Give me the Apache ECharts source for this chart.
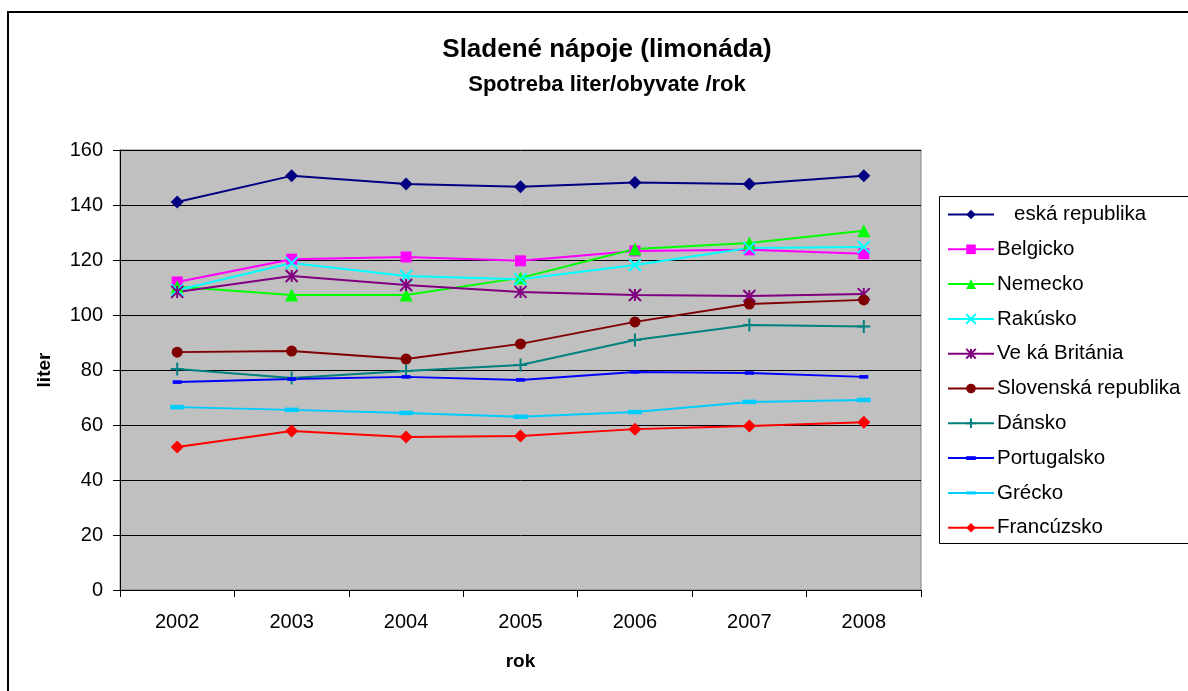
<!DOCTYPE html>
<html>
<head>
<meta charset="utf-8">
<script src="https://cdn.jsdelivr.net/npm/echarts@6/dist/echarts.min.js"></script>
<style>
  html, body { margin: 0; padding: 0; background: #fff; }
  #chart { width: 1188px; height: 691px; }
</style>
</head>
<body>
<div id="chart"></div>
<script>
// Consumption of sweetened drinks, litres per inhabitant per year
const years = ['2002', '2003', '2004', '2005', '2006', '2007', '2008'];

const ceskaRepublika = [141.1, 150.6, 147.6, 146.6, 148.2, 147.6, 150.6];
const belgicko       = [112.0, 120.3, 121.1, 119.7, 123.3, 123.7, 122.3];
const nemecko        = [110.3, 107.3, 107.3, 113.5, 124.0, 126.2, 130.6];
const rakusko        = [109.0, 118.9, 114.2, 113.0, 118.2, 124.4, 124.7];
const velkaBritania  = [108.4, 114.2, 110.9, 108.4, 107.3, 106.9, 107.6];
const slovenska      = [86.5, 86.9, 84.0, 89.5, 97.5, 104.0, 105.5];
const dansko         = [80.4, 77.1, 79.6, 81.8, 90.9, 96.4, 95.8];
const portugalsko    = [75.6, 76.7, 77.5, 76.4, 79.3, 78.9, 77.5];
const grecko         = [66.5, 65.5, 64.4, 63.0, 64.7, 68.4, 69.1];
const francuzsko     = [52.0, 57.8, 55.6, 56.0, 58.5, 59.6, 61.0];

const seriesNames = [
  '   eská republika', 'Belgicko', 'Nemecko', 'Rakúsko', 'Ve ká Británia',
  'Slovenská republika', 'Dánsko', 'Portugalsko', 'Grécko', 'Francúzsko'
];
const seriesValues = [
  ceskaRepublika, belgicko, nemecko, rakusko, velkaBritania,
  slovenska, dansko, portugalsko, grecko, francuzsko
];

const yTicks = { min: 0, max: 160, interval: 20 };

// marker shapes: stroked paths for cross / asterisk / plus,
// square-bounded bars for the dash markers
const DASH_SMALL = 'path://M0,0M0,3L10,3L10,7L0,7ZM10,10';
const DASH_WIDE  = 'path://M0,0M0,3.4L10,3.4L10,6.6L0,6.6ZM10,10';
const styles = [
  { color: '#000080', symbol: 'diamond', size: 13, stroke: false },
  { color: '#FF00FF', symbol: 'rect', size: 11, stroke: false },
  { color: '#00FF00', symbol: 'triangle', size: 13, stroke: false },
  { color: '#00FFFF', symbol: 'path://M0,0L10,10M0,10L10,0', size: 12, stroke: true },
  { color: '#800080', symbol: 'path://M0,0L10,10M0,10L10,0M5,0L5,10', size: 12, stroke: true },
  { color: '#800000', symbol: 'circle', size: 11, stroke: false },
  { color: '#008080', symbol: 'path://M5,0L5,10M0,5L10,5', size: 13, stroke: true },
  { color: '#0000FF', symbol: DASH_SMALL, size: 9, stroke: false },
  { color: '#00CCFF', symbol: DASH_WIDE, size: 14, stroke: false },
  { color: '#FF0000', symbol: 'diamond', size: 13, stroke: false }
];

const FONT = '"Liberation Sans", Arial, sans-serif';

const series = seriesNames.map((name, i) => {
  const st = styles[i];
  return {
    name: name,
    type: 'line',
    data: seriesValues[i],
    symbol: st.symbol,
    symbolSize: st.size,
    showAllSymbol: true,
    lineStyle: { color: st.color, width: 2 },
    itemStyle: st.stroke
      ? { color: st.color, borderColor: st.color, borderWidth: 2 }
      : { color: st.color, borderWidth: 0 },
    emphasis: { disabled: true },
    animation: false
  };
});

const chart = echarts.init(document.getElementById('chart'), null, { renderer: 'canvas' });
chart.setOption({
  backgroundColor: '#ffffff',
  animation: false,
  title: [
    {
      text: 'Sladené nápoje (limonáda)',
      left: 602, top: 32, textAlign: 'center',
      textStyle: { fontFamily: FONT, fontSize: 26, fontWeight: 'bold', color: '#000' }
    },
    {
      text: 'Spotreba liter/obyvate /rok',
      left: 602, top: 69, textAlign: 'center',
      textStyle: { fontFamily: FONT, fontSize: 22, fontWeight: 'bold', color: '#000' }
    }
  ],
  graphic: [
    {
      type: 'rect', z: -1, silent: true,
      shape: { x: 8, y: 12, width: 1300, height: 800 },
      style: { fill: null, stroke: '#000', lineWidth: 2 }
    },
    {
      type: 'rect', z: 1, silent: true,
      shape: { x: 939.5, y: 196.5, width: 400, height: 347 },
      style: { fill: '#fff', stroke: '#000', lineWidth: 1 }
    }
  ],
  legend: {
    orient: 'vertical',
    left: 947, top: 204,
    itemWidth: 46, itemHeight: 12, itemGap: 13.8,
    padding: 0,
    z: 5,
    textStyle: {
      fontFamily: FONT, fontSize: 20.5, lineHeight: 20, color: '#000',
      padding: [0, 0, 0, -2]
    },
    data: seriesNames
  },
  grid: {
    left: 120, top: 150, width: 801, height: 440,
    show: true, backgroundColor: '#C0C0C0', borderColor: '#808080', borderWidth: 1,
    containLabel: false
  },
  xAxis: {
    type: 'category',
    data: years,
    boundaryGap: true,
    name: 'rok',
    nameLocation: 'middle',
    nameGap: 62,
    nameTextStyle: { fontFamily: FONT, fontSize: 19, fontWeight: 'bold', color: '#000' },
    axisLine: { lineStyle: { color: '#000', width: 1 } },
    axisTick: { show: true, length: 7, alignWithLabel: false, lineStyle: { color: '#000' } },
    axisLabel: { fontFamily: FONT, fontSize: 20, color: '#000', margin: 22 },
    splitLine: { show: false }
  },
  yAxis: {
    type: 'value',
    min: yTicks.min, max: yTicks.max, interval: yTicks.interval,
    name: 'liter',
    nameLocation: 'middle',
    nameGap: 66,
    nameRotate: 90,
    nameTextStyle: { fontFamily: FONT, fontSize: 19, fontWeight: 'bold', color: '#000' },
    axisLine: { show: true, lineStyle: { color: '#000', width: 1 } },
    axisTick: { show: true, length: 7, lineStyle: { color: '#000' } },
    axisLabel: { fontFamily: FONT, fontSize: 20, color: '#000', margin: 17 },
    splitLine: { show: true, lineStyle: { color: '#000', width: 1 } }
  },
  series: series
});
</script>
</body>
</html>
